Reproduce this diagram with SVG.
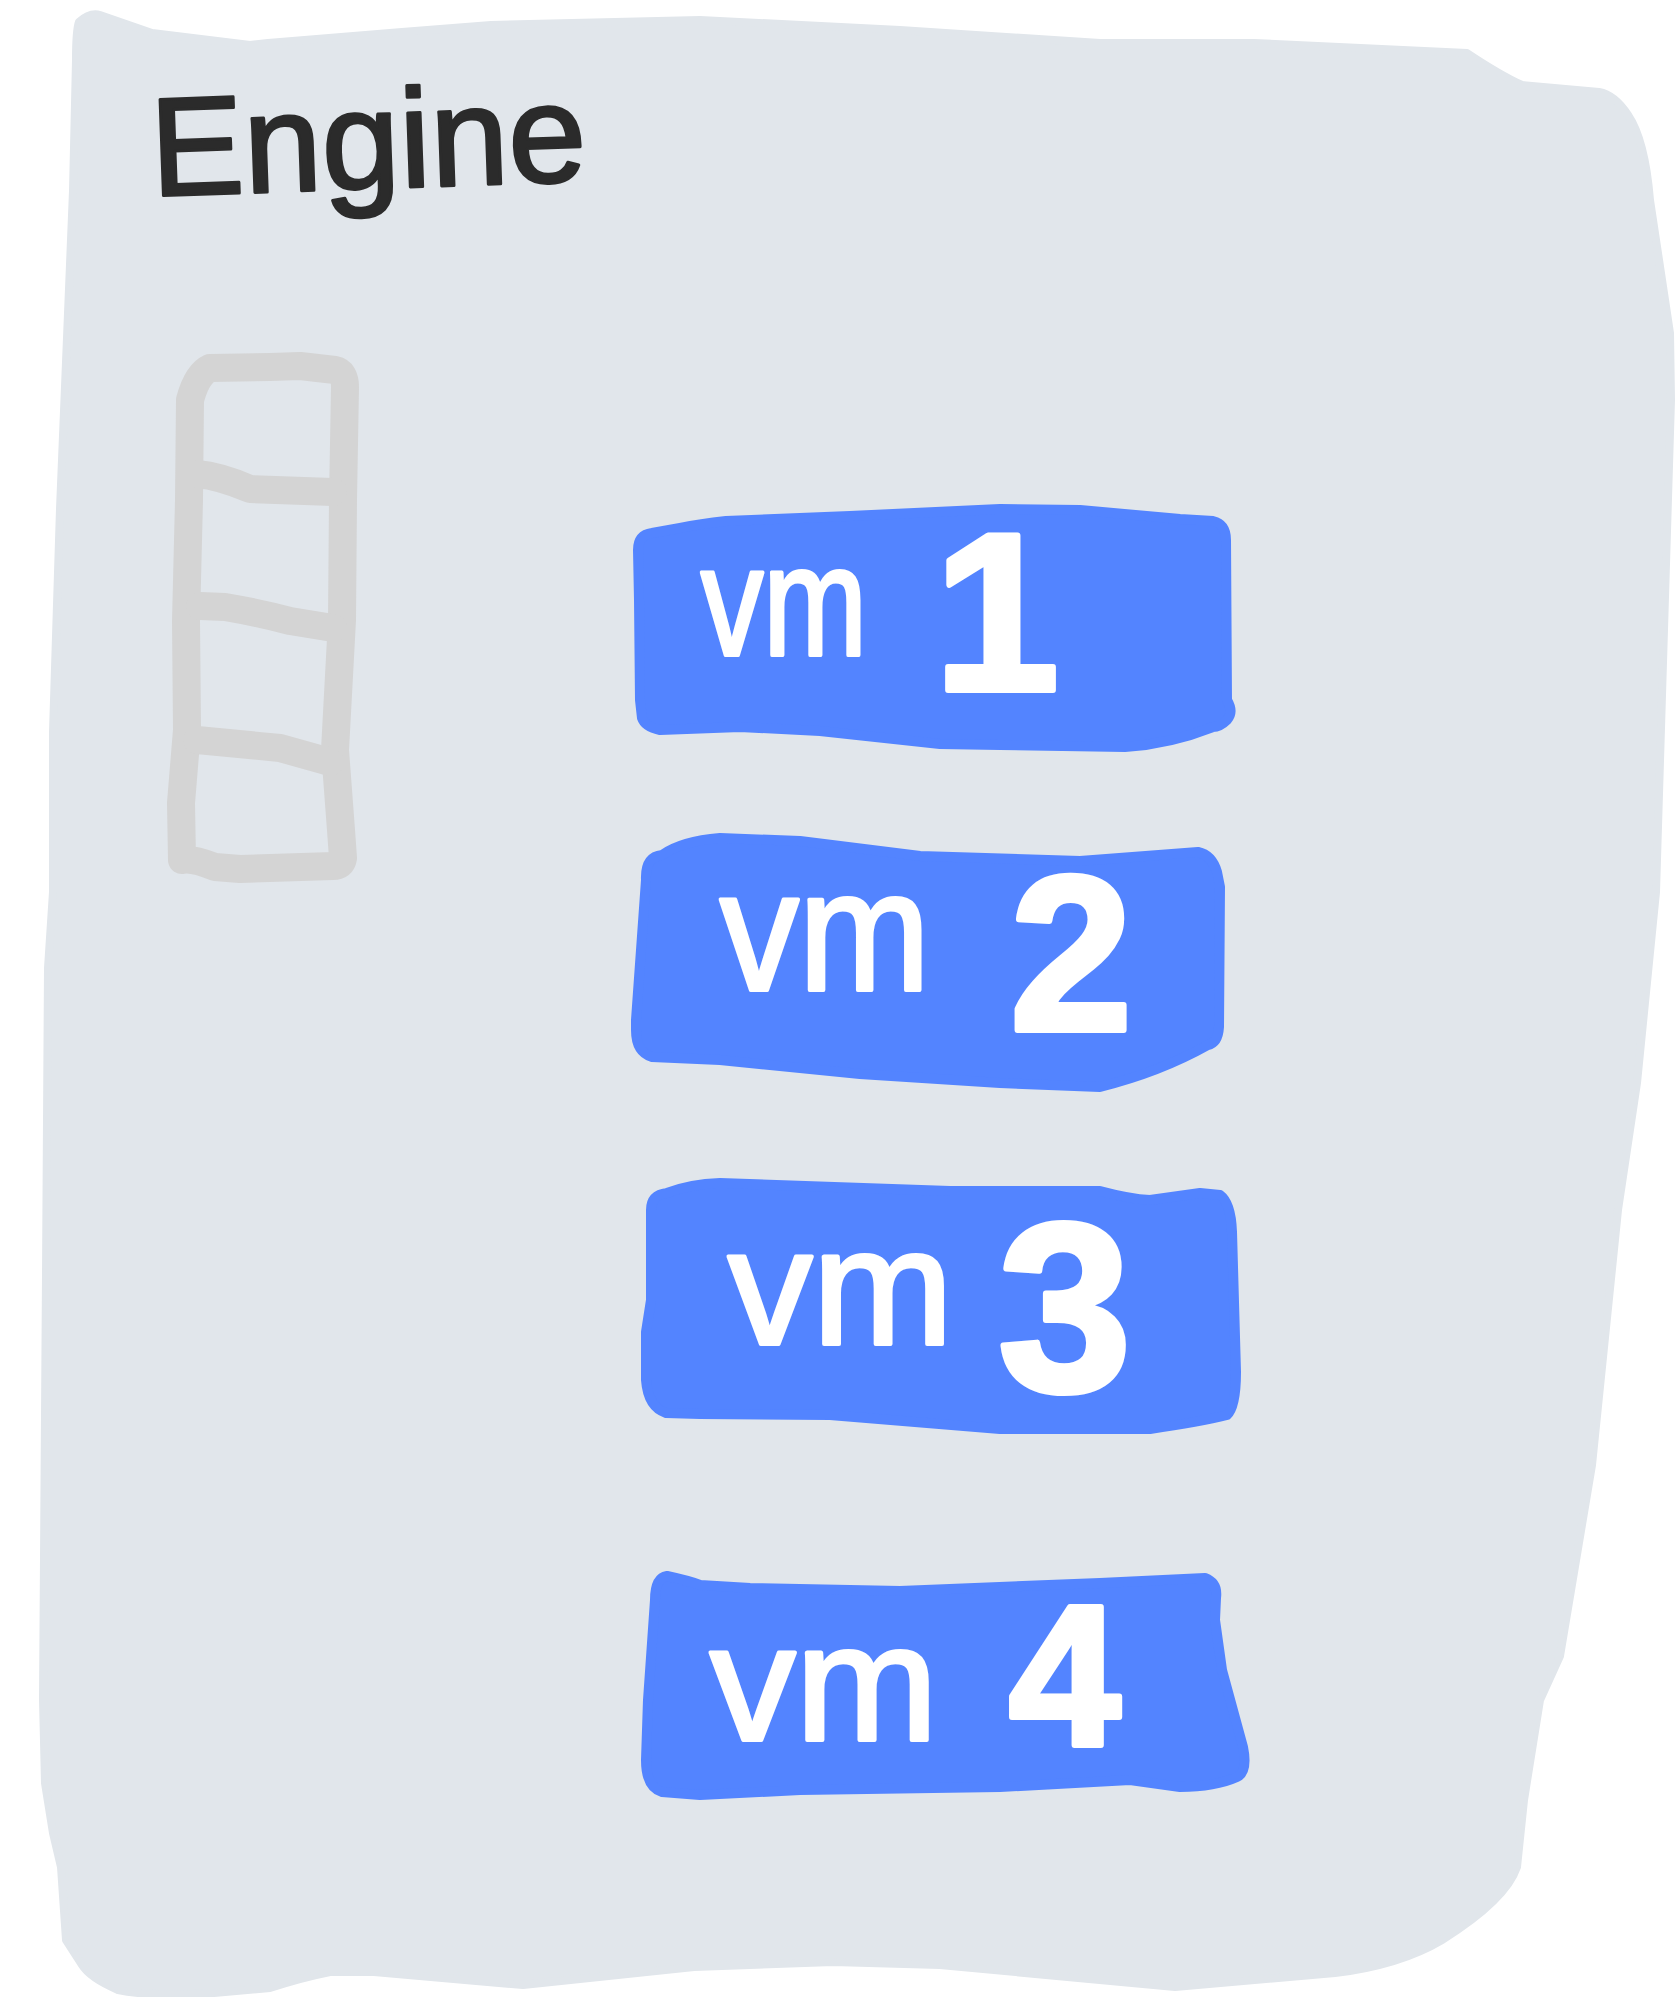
<svg xmlns="http://www.w3.org/2000/svg" width="1675" height="1997" viewBox="0 0 1675 1997">
<style>
.bg{fill:#e1e6eb;stroke:#e1e6eb;stroke-width:8px;stroke-linejoin:round}
.vmbox{fill:#5384ff;stroke:#5384ff;stroke-width:10px;stroke-linejoin:round}
.ladder{fill:none;stroke:#d4d4d4;stroke-width:28px;stroke-linecap:round;stroke-linejoin:round}
.title{font-family:"Liberation Sans",Arial,sans-serif;font-size:140px;fill:#2b2b2b;stroke:#2b2b2b;stroke-width:3px;stroke-linejoin:round}
.lbl{font-family:"Liberation Sans",Arial,sans-serif;fill:#ffffff;stroke:#ffffff;stroke-width:4px;stroke-linejoin:round}
.num{font-weight:bold;stroke-width:6px}
</style>
<rect width="1675" height="1997" fill="#ffffff"/>
<g id="engine">
<path class="bg" d="M 79,22 Q 90,12 100,15 L 152,33 L 250,45 L 268,43 L 402,32 L 491,25 L 700,20 L 900,30 L 1100,43 L 1254,43 L 1467,53 Q 1500,75 1522,85 L 1599,92 Q 1615,95 1628,115 Q 1645,140 1650,200 L 1670,333 L 1671,400 L 1656,892 L 1637,1083 L 1618,1210 L 1592,1465 L 1560,1656 L 1540,1700 L 1524,1800 L 1517,1867 Q 1506,1900 1442,1940 Q 1400,1965 1335,1973 L 1175,1987 L 940,1965 L 833,1962 L 694,1967 L 523,1985 L 374,1972 L 330,1972 Q 300,1978 270,1988 L 214,1993 Q 150,1997 118,1990 Q 90,1978 82,1965 L 66,1940 L 61,1867 L 53,1833 L 45,1783 L 43,1700 L 46,1274 L 48,968 L 53,892 L 53,732 L 60,509 L 73,191 L 76,60 Q 76,30 79,22 Z"/>
<text class="title" x="152" y="196" transform="rotate(-2 152 196)">Engine</text>
</g>
<g id="queue">
<path class="ladder" d="M 210,368 L 270,367 L 300,366 L 335,370 Q 345,372 345,387 L 343,500 L 342,620 L 335,750 L 341,830 L 343,858 Q 342,866 333,866 L 240,869 L 215,867 Q 192,858 182,860 L 181,803 L 187,730 L 186,621 L 189,500 L 190,400 Q 197,374 210,368 Z"/>
<path class="ladder" d="M 197,474 Q 220,476 250,489 L 333,492"/>
<path class="ladder" d="M 200,606 L 225,607 Q 260,613 290,621 L 333,628"/>
<path class="ladder" d="M 197,740 L 280,748 Q 305,755 330,762"/>
</g>
<g id="vm1">
<path class="vmbox" d="M 638,550 Q 638,535 652,533 L 680,528 Q 700,524 726,521 L 850,516 L 1000,509 L 1080,510 L 1180,519 L 1213,521 Q 1226,524 1226,540 L 1227,700 Q 1234,712 1227,720 Q 1220,727 1213,727 Q 1170,744 1125,747 L 1000,745 L 940,744 L 820,731 L 740,727 L 660,730 Q 645,727 642,718 L 640,700 L 639,600 Z"/>
<text class="lbl"><tspan x="701" y="655" font-size="155" textLength="166" lengthAdjust="spacingAndGlyphs">vm</tspan> <tspan class="num" x="934" y="690" font-size="225">1</tspan></text>
</g>
<g id="vm2">
<path class="vmbox" d="M 646,880 Q 645,857 662,855 Q 682,841 720,838 L 800,841 L 920,856 L 1080,861 L 1198,852 Q 1212,855 1217,872 L 1220,887 L 1219,1027 Q 1218,1043 1208,1045 Q 1160,1072 1100,1087 L 1000,1083 L 860,1074 L 720,1060 L 652,1057 Q 636,1052 636,1030 L 636,1020 Z"/>
<text class="lbl"><tspan x="720" y="990" font-size="170" textLength="210" lengthAdjust="spacingAndGlyphs">vm</tspan> <tspan class="num" x="1010" y="1030" font-size="220">2</tspan></text>
</g>
<g id="vm3">
<path class="vmbox" d="M 651,1300 L 651,1210 Q 651,1195 667,1193 Q 690,1184 720,1183 L 950,1191 L 1100,1191 Q 1130,1199 1150,1200 L 1200,1193 L 1220,1195 Q 1231,1203 1232,1232 L 1236,1372 Q 1236,1407 1227,1415 Q 1200,1422 1150,1429 L 1000,1429 L 830,1415 L 700,1414 L 666,1413 Q 648,1407 646,1380 L 646,1332 Z"/>
<text class="lbl"><tspan x="728" y="1344" font-size="165" textLength="225" lengthAdjust="spacingAndGlyphs">vm</tspan> <tspan class="num" x="998" y="1390" font-size="240">3</tspan></text>
</g>
<g id="vm4">
<path class="vmbox" d="M 655,1600 Q 655,1578 667,1576 Q 690,1581 700,1585 L 750,1588 L 900,1591 L 1100,1583 L 1205,1578 Q 1218,1583 1216,1598 L 1215,1620 L 1222,1670 L 1243,1747 Q 1248,1772 1237,1777 Q 1215,1787 1180,1787 L 1130,1780 L 1000,1787 L 800,1790 L 700,1795 L 662,1792 Q 646,1787 646,1760 L 648,1700 Z"/>
<text class="lbl"><tspan x="710" y="1740" font-size="165" textLength="228" lengthAdjust="spacingAndGlyphs">vm</tspan> <tspan class="num" x="1009" y="1745" font-size="200">4</tspan></text>
</g>
</svg>
